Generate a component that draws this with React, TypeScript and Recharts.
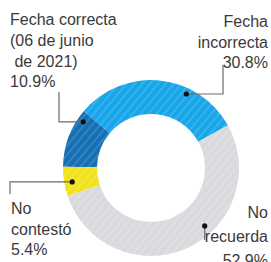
import { PieChart, Pie, Cell } from "recharts"

const categories = ["Fecha incorrecta", "Fecha correcta", "No contestó", "No recuerda"]
const shares = [30.8, 10.9, 5.4, 52.9]
const labelLines = [
  ["Fecha", "incorrecta", "30.8%"],
  ["Fecha correcta", "(06 de junio", "\u00a0de 2021)", "10.9%"],
  ["No", "contestó", "5.4%"],
  ["No", "recuerda", "52.9%"],
]

const colors = ["#18a6ea", "#156fb4", "#f1e21c", "#dadade"]

const data = categories.map((name, i) => ({ name, value: shares[i] }))

// where the dot sits inside each slice (fraction of the sweep) and how the
// leader + text block are laid out
const labelLayout = [
  { frac: 0.32, r: 82, elbow: "h", toX: 223, toY: 65, tx: 268, ty: 27, anchor: "end", lh: 20.5 },
  { frac: 0.15, r: 82, elbow: "h", toX: 59, toY: 92, tx: 10, ty: 25, anchor: "start", lh: 20.8 },
  { frac: 0.56, r: 80, elbow: "h", toX: 10, toY: 194, tx: 11, ty: 214, anchor: "start", lh: 20.5 },
  { frac: 0.6, r: 79, elbow: "v", toX: 0, toY: 240, tx: 268, ty: 218, anchor: "end", lh: 24 },
]

const RAD = Math.PI / 180

function renderLabel(props: any) {
  const { cx, cy, startAngle, endAngle, index } = props
  const l = labelLayout[index]
  const a = startAngle + l.frac * (endAngle - startAngle)
  const dx = cx + l.r * Math.cos(-a * RAD)
  const dy = cy + l.r * Math.sin(-a * RAD)
  const points =
    l.elbow === "h"
      ? `${dx},${dy} ${l.toX},${dy} ${l.toX},${l.toY}`
      : `${dx},${dy} ${dx},${l.toY}`
  return (
    <g key={`lbl-${index}`}>
      <polyline points={points} fill="none" stroke="#6b6b6b" strokeWidth={1.2} />
      <circle cx={dx} cy={dy} r={2.6} fill="#111" />
      <text
        x={l.tx}
        y={l.ty}
        textAnchor={l.anchor}
        fill="#3a3a3a"
        fontSize={16}
        fontFamily="'Liberation Sans', Arial, sans-serif"
      >
        {labelLines[index].map((t, j) => (
          <tspan key={j} x={l.tx} y={l.ty + j * l.lh}>
            {t}
          </tspan>
        ))}
      </text>
    </g>
  )
}

export default function App() {
  return (
    <div style={{ position: "absolute", left: 0, top: 0, background: "#fff" }}>
      <PieChart width={271} height={262}>
        <defs>
          {colors.map((c, i) => (
            <pattern
              key={i}
              id={`hatch-${i}`}
              width={6}
              height={6}
              patternUnits="userSpaceOnUse"
              patternTransform="rotate(40)"
            >
              <rect width={6} height={6} fill={c} />
              <rect width={1.6} height={6} fill="#ffffff" fillOpacity={0.16} />
            </pattern>
          ))}
        </defs>
        <Pie
          data={data}
          dataKey="value"
          nameKey="name"
          cx={146}
          cy={163}
          innerRadius={54}
          outerRadius={88}
          startAngle={29}
          endAngle={389}
          stroke="none"
          label={renderLabel}
          labelLine={false}
          isAnimationActive={false}
        >
          {data.map((d, i) => (
            <Cell key={d.name} fill={`url(#hatch-${i})`} />
          ))}
        </Pie>
      </PieChart>
    </div>
  )
}
